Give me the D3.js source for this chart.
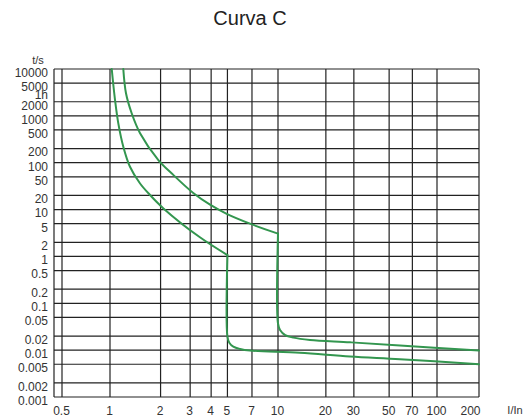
<!DOCTYPE html>
<html>
<head>
<meta charset="utf-8">
<script src="https://cdn.jsdelivr.net/npm/d3@7"></script>
<style>
    body { margin: 0; background: #fff; }
    text { font-family: "Liberation Sans", Arial, Helvetica, sans-serif; }
</style>
</head>
<body>
<div id="_chart"></div>
<script>
// tick values of both axes
var yTicks = [10000, 5000, 2000, 1000, 500, 200, 100, 50, 20, 10, 5, 2, 1,
    0.5, 0.2, 0.1, 0.05, 0.02, 0.01, 0.005, 0.002, 0.001];
var xTicks = [0.5, 1, 2, 3, 4, 5, 7, 10, 20, 30, 50, 70, 100, 200];
var hourMark = [3600];

// [I/In, t/s]
var slowThermal = [[1.2, 10000], [1.245, 3030], [1.346, 1135], [1.51, 425], [1.94, 114],
    [2.38, 55], [3.13, 22.6], [3.94, 12.7], [4.95, 8.1], [6.81, 5.0], [10, 3.07]];
var slowMagnetic = [[10, 3.07], [10, 0.037], [10.3, 0.027], [11.1, 0.021], [12.5, 0.0185],
    [15.9, 0.0165], [28.4, 0.0147], [58.5, 0.0125], [200, 0.0098]];
var fastThermal = [[1.024, 10000], [1.071, 2200], [1.12, 700], [1.2, 220], [1.315, 82],
    [1.51, 36], [1.73, 20.5], [2.08, 10.6], [3.43, 2.56], [5, 1.07]];
var fastMagnetic = [[5, 1.07], [5, 0.0194], [5.13, 0.0144], [5.42, 0.0119], [5.95, 0.0106],
    [6.81, 0.0098], [13.7, 0.0088], [28.4, 0.0073], [58.5, 0.0064], [200, 0.005]];

(function curveChart() {
    var marginLeft = 54, marginTop = 69, marginBottom = 397;

    var svg = d3.select('#_chart')
        .append('svg')
        .attr('width', 531)
        .attr('height', 417);

    var x = d3.scaleLog()
        .domain([0.5, 1, 10, 100, 200])
        .range([62, 110, 278, 437, 479]);

    var y = d3.scaleLog()
        .domain([0.001, 10000])
        .range([marginBottom, marginTop]);

    svg.append('text')
        .text('Curva C')
        .attr('x', 250)
        .attr('y', 25)
        .attr('text-anchor', 'middle')
        .style('font-size', '20px')
        .attr('fill', '#222');

    // grid
    var grid = svg.append('g')
        .attr('stroke', '#222')
        .attr('stroke-width', 1.2);

    grid.selectAll('.h')
        .data(yTicks)
        .enter().append('line')
        .attr('x1', marginLeft)
        .attr('x2', x(200))
        .attr('y1', function(d) { return y(d); })
        .attr('y2', function(d) { return y(d); });

    grid.selectAll('.v')
        .data(xTicks)
        .enter().append('line')
        .attr('x1', function(d) { return x(d); })
        .attr('x2', function(d) { return x(d); })
        .attr('y1', marginTop)
        .attr('y2', marginBottom);

    grid.append('line')
        .attr('x1', marginLeft)
        .attr('x2', marginLeft)
        .attr('y1', marginTop)
        .attr('y2', marginBottom);

    // axes labels
    var yAxis = svg.append('g')
        .attr('transform', 'translate(' + marginLeft + ',0)')
        .call(d3.axisLeft(y).tickValues(yTicks).tickSize(0).tickPadding(6)
            .tickFormat(function(d) { return String(d); }));
    yAxis.select('.domain').remove();
    yAxis.selectAll('text')
        .attr('y', 3.5)
        .style('font-size', '12px')
        .attr('fill', '#333');

    svg.selectAll('.hour')
        .data(hourMark)
        .enter().append('text')
        .text('1h')
        .attr('x', marginLeft - 6)
        .attr('y', function(d) { return y(d) + 5; })
        .attr('dy', '0.32em')
        .attr('text-anchor', 'end')
        .style('font-size', '12px')
        .attr('fill', '#333');

    var xAxis = svg.append('g')
        .attr('transform', 'translate(0,' + marginBottom + ')')
        .call(d3.axisBottom(x).tickValues(xTicks).tickSize(0).tickPadding(9)
            .tickFormat(function(d) { return String(d); }));
    xAxis.select('.domain').remove();
    xAxis.selectAll('text')
        .attr('x', -1)
        .style('font-size', '12px')
        .attr('fill', '#333');
    xAxis.selectAll('text')
        .filter(function(d) { return d === 200; })
        .attr('x', 1)
        .attr('text-anchor', 'end');

    svg.append('text')
        .text('t/s')
        .attr('x', 38)
        .attr('y', 64)
        .attr('text-anchor', 'middle')
        .style('font-size', '11px')
        .attr('fill', '#333');

    svg.append('text')
        .text('I/In')
        .attr('x', 515)
        .attr('y', 413.5)
        .attr('text-anchor', 'middle')
        .style('font-size', '11px')
        .attr('fill', '#333');

    // tripping curves
    var line = d3.line()
        .x(function(d) { return x(d[0]); })
        .y(function(d) { return y(d[1]); })
        .curve(d3.curveCatmullRom.alpha(0.5));

    svg.selectAll('.curve')
        .data([slowThermal, slowMagnetic, fastThermal, fastMagnetic])
        .enter().append('path')
        .attr('d', line)
        .attr('fill', 'none')
        .attr('stroke', '#33964f')
        .attr('stroke-width', 2)
        .attr('stroke-linecap', 'round')
        .attr('stroke-linejoin', 'round');
})();
</script>
</body>
</html>
